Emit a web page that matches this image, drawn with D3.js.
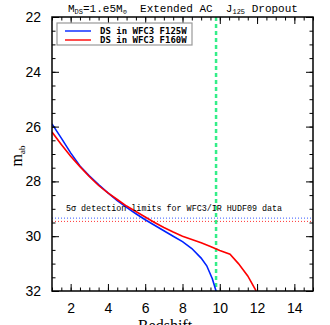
<!DOCTYPE html>
<html>
<head>
<meta charset="utf-8">
<script src="https://cdn.jsdelivr.net/npm/d3@7"></script>
<style>
  body { margin: 0; background: #fff; }
  svg { display: block; }
</style>
</head>
<body>
<svg width="330" height="325"></svg>
<script>
// F125W (blue) and F160W (red) curves
var zBlue = [1, 1.5, 2, 2.5, 3, 3.5, 4, 4.5, 5, 5.5, 6, 6.5, 7, 7.5, 8, 8.5, 9, 9.3, 9.6, 9.8];
var magBlue = [25.9, 26.42, 26.96, 27.44, 27.8, 28.12, 28.42, 28.7, 28.95, 29.18, 29.4, 29.6, 29.8, 30.0, 30.2, 30.45, 30.8, 31.08, 31.55, 32.0];
var zRed = [1, 1.5, 2, 2.5, 3, 3.5, 4, 4.5, 5, 5.5, 6, 6.5, 7, 7.5, 8, 8.5, 9, 9.5, 10, 10.55, 11, 11.5, 11.95];
var magRed = [26.2, 26.65, 27.08, 27.46, 27.82, 28.15, 28.42, 28.66, 28.9, 29.1, 29.3, 29.5, 29.68, 29.85, 30.0, 30.12, 30.24, 30.38, 30.52, 30.66, 31.0, 31.45, 32.0];

var limitBlue = 29.34;
var limitRed = 29.46;
var dropoutZ = 9.8;

var xTicks = [2, 4, 6, 8, 10, 12, 14];
var yTicks = [22, 24, 26, 28, 30, 32];

var svg = d3.select('svg');
var mLeft = 52, mRight = 313, mTop = 17, mBottom = 291;

var x = d3.scaleLinear().domain([1, 15]).range([mLeft, mRight]);
var y = d3.scaleLinear().domain([22, 32]).range([mTop, mBottom]);

var plot = svg.append('g');

// clip so curves stop at the frame
svg.append('clipPath').attr('id', 'clip')
    .append('rect')
    .attr('x', mLeft).attr('y', mTop)
    .attr('width', mRight - mLeft).attr('height', mBottom - mTop);

var clipped = plot.append('g').attr('clip-path', 'url(#clip)');

// detection limits
clipped.append('line')
    .attr('x1', mLeft).attr('x2', mRight)
    .attr('y1', y(limitBlue)).attr('y2', y(limitBlue))
    .attr('stroke', '#3355ff').attr('stroke-width', 1)
    .attr('stroke-dasharray', '1,2');
clipped.append('line')
    .attr('x1', mLeft).attr('x2', mRight)
    .attr('y1', y(limitRed)).attr('y2', y(limitRed))
    .attr('stroke', '#ff3333').attr('stroke-width', 1)
    .attr('stroke-dasharray', '1,2');

// dropout redshift
clipped.append('line')
    .attr('x1', x(dropoutZ)).attr('x2', x(dropoutZ))
    .attr('y1', mTop).attr('y2', mBottom)
    .attr('stroke', '#33ee88').attr('stroke-width', 2.5)
    .attr('stroke-dasharray', '4,3');

var line = d3.line()
    .x(function(d) { return x(d[0]); })
    .y(function(d) { return y(d[1]); });

clipped.append('path')
    .datum(d3.zip(zBlue, magBlue))
    .attr('d', line)
    .attr('fill', 'none')
    .attr('stroke', '#0022ff')
    .attr('stroke-width', 1.6);

clipped.append('path')
    .datum(d3.zip(zRed, magRed))
    .attr('d', line)
    .attr('fill', 'none')
    .attr('stroke', '#ff0000')
    .attr('stroke-width', 1.6);

// axes (ticks pointing in)
var xMinor = d3.range(1, 15.01, 0.5);
var yMinor = d3.range(22, 32.01, 0.5);

var xBottom = d3.axisBottom(x).tickValues(xTicks).tickSize(-7).tickPadding(12);
var xBottomMinor = d3.axisBottom(x).tickValues(xMinor).tickSize(-3.5).tickFormat('');
var xTop = d3.axisTop(x).tickValues(xTicks).tickSize(-7).tickFormat('');
var xTopMinor = d3.axisTop(x).tickValues(xMinor).tickSize(-3.5).tickFormat('');
var yLeft = d3.axisLeft(y).tickValues(yTicks).tickSize(-7).tickPadding(11);
var yLeftMinor = d3.axisLeft(y).tickValues(yMinor).tickSize(-3.5).tickFormat('');
var yRight = d3.axisRight(y).tickValues(yTicks).tickSize(-7).tickFormat('');
var yRightMinor = d3.axisRight(y).tickValues(yMinor).tickSize(-3.5).tickFormat('');

function drawAxis(axis, tx, ty) {
    var g = svg.append('g')
        .attr('class', 'axis')
        .attr('transform', 'translate(' + tx + ',' + ty + ')')
        .call(axis);
    g.select('.domain').remove();
    g.selectAll('line').attr('stroke', '#000').attr('stroke-width', 1);
    g.selectAll('text')
        .attr('font-family', 'Liberation Sans, Arial, sans-serif')
        .attr('font-size', 14)
        .attr('fill', '#000');
    return g;
}

drawAxis(xBottom, 0, mBottom);
drawAxis(xBottomMinor, 0, mBottom);
drawAxis(xTop, 0, mTop);
drawAxis(xTopMinor, 0, mTop);
drawAxis(yLeft, mLeft, 0);
drawAxis(yLeftMinor, mLeft, 0);
drawAxis(yRight, mRight, 0);
drawAxis(yRightMinor, mRight, 0);

svg.append('rect')
    .attr('x', mLeft).attr('y', mTop)
    .attr('width', mRight - mLeft).attr('height', mBottom - mTop)
    .attr('fill', 'none')
    .attr('stroke', '#000')
    .attr('stroke-width', 1.5);

// legend
var legend = svg.append('g');
legend.append('rect')
    .attr('x', 57).attr('y', 23)
    .attr('width', 135).attr('height', 22)
    .attr('fill', '#fff')
    .attr('stroke', '#999')
    .attr('stroke-width', 1.2);
var legendItems = [
    {label: 'DS in WFC3 F125W', color: '#0022ff'},
    {label: 'DS in WFC3 F160W', color: '#ff0000'}
];
legendItems.forEach(function(d, i) {
    var ly = 31 + i * 9;
    legend.append('line')
        .attr('x1', 65).attr('x2', 91)
        .attr('y1', ly).attr('y2', ly)
        .attr('stroke', d.color).attr('stroke-width', 1.4);
    legend.append('text')
        .attr('x', 100).attr('y', ly + 3)
        .attr('font-family', 'DejaVu Sans Mono, monospace')
        .attr('font-size', 9)
        .attr('font-weight', 'bold')
        .text(d.label);
});

// detection limit caption
svg.append('text')
    .attr('x', 66).attr('y', 211)
    .attr('font-family', 'Liberation Mono, monospace')
    .attr('font-size', 8.4)
    .text('5\u03c3 detection limits for WFC3/IR HUDF09 data');

// title
var title = svg.append('text')
    .attr('x', 68).attr('y', 12)
    .attr('font-family', 'Liberation Mono, monospace')
    .attr('font-size', 11)
    .attr('fill', '#000');
title.append('tspan').text('M');
title.append('tspan').attr('font-size', 7).attr('dy', 2).text('DS');
title.append('tspan').attr('dy', -2).text('=1.e5M');
title.append('tspan').attr('font-size', 7).attr('dy', 2).text('\u2299');
title.append('tspan').attr('dy', -2).attr('xml:space', 'preserve').text('  Extended AC  J');
title.append('tspan').attr('font-size', 7).attr('dy', 2).text('125');
title.append('tspan').attr('dy', -2).text(' Dropout');

// axis titles
svg.append('text')
    .attr('x', 165).attr('y', 331)
    .attr('text-anchor', 'middle')
    .attr('font-family', 'Liberation Serif, serif')
    .attr('font-size', 16)
    .text('Redshift');

var yl = svg.append('text')
    .attr('transform', 'translate(22,156) rotate(-90)')
    .attr('text-anchor', 'middle')
    .attr('font-family', 'Liberation Serif, serif')
    .attr('font-size', 16);
yl.append('tspan').text('m');
yl.append('tspan').attr('font-size', 9).attr('dy', 3).text('ab');
</script>
</body>
</html>
